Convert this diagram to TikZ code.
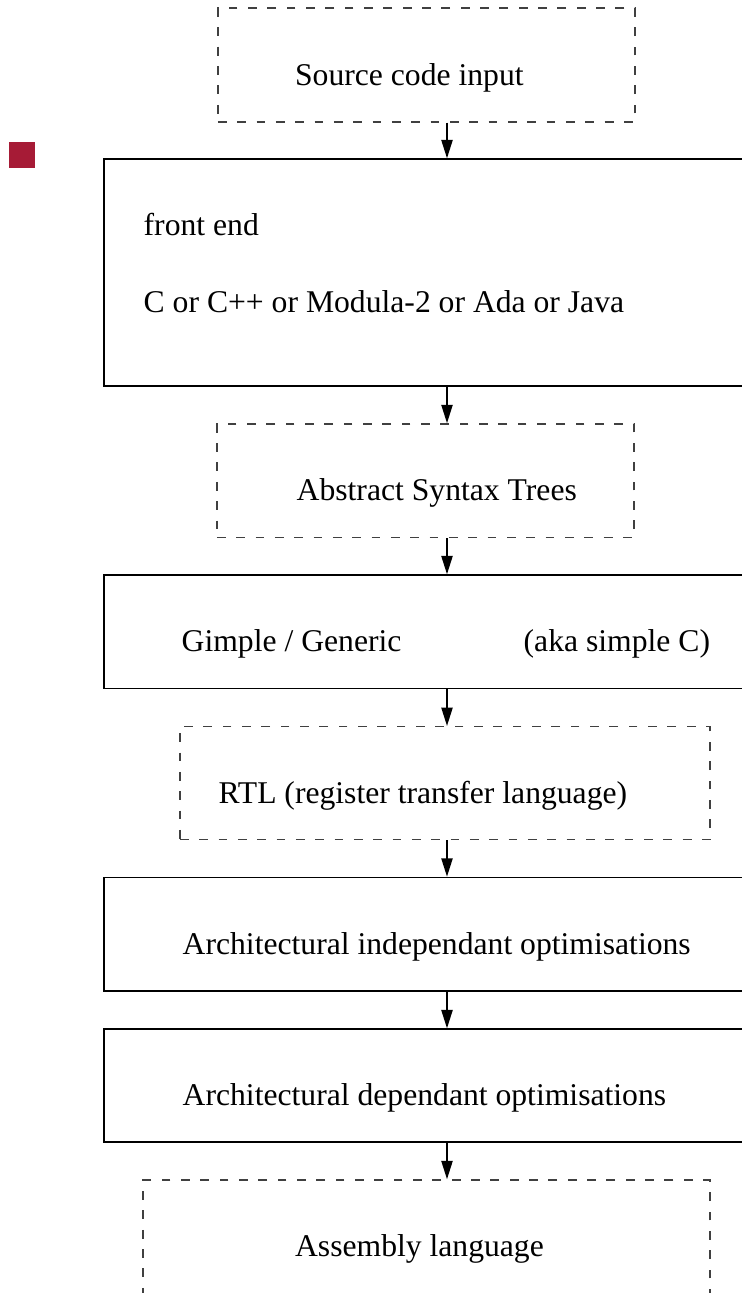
\documentclass[tikz,border=0pt]{standalone}
\usepackage{fontspec}
\setmainfont{Liberation Serif}
\usetikzlibrary{arrows.meta}
\tikzset{>={Triangle[length=5.2pt,width=3.2pt]}}
\definecolor{marker}{RGB}{166,27,54}
\tikzset{
  stage/.style={draw, line width=0.4pt, inner sep=0pt, minimum width=6.86cm},
  data/.style={draw=black!75, dash pattern=on 2.5pt off 3pt, line width=0.45pt, inner sep=0pt},
  lbl/.style={anchor=base west, inner sep=0pt, font=\fontsize{9}{11}\selectfont},
}

\begin{document}
\begin{tikzpicture}[x=0.01cm, y=-0.01cm]
    \useasboundingbox (0,0) rectangle (742,1293);
    \clip (0,0) rectangle (742,1293);

    \fill [marker] (9,142) rectangle (35,168);
    \coordinate (axis) at (447,0);

    % boxes
    \node [data, minimum width=4.17cm, minimum height=1.134cm] (src) at (426.5,65) {};
    \node [stage, minimum height=2.27cm] (fe) at (447,272.5) {};
    \node [data, minimum width=4.17cm, minimum height=1.133cm] (ast) at (425.5,480.6) {};
    \node [stage, minimum height=1.133cm] (gimple) at (447,631.6) {};
    \node [data, minimum width=5.30cm, minimum height=1.126cm] (rtl) at (445,783) {};
    \node [stage, minimum height=1.137cm] (indep) at (447,934.2) {};
    \node [stage, minimum height=1.13cm] (dep) at (447,1085.5) {};
    \node [data, minimum width=5.67cm, minimum height=1.5cm] (asm) at (426.5,1255) {};

    % texts
    \node [lbl] (srctext) at (294.4,85) {Source code input};
    \node [lbl] (fetext) at (143,235) {front end};
    \node [lbl] (langtext) at (143,312) {C or C++ or Modula-2 or Ada or Java};
    \node [lbl] (asttext) at (296,500.7) {Abstract Syntax Trees};
    \node [lbl] (gimpletext) at (181,651.7) {Gimple / Generic};
    \node [lbl] (akatext) at (523,651.7) {(aka simple C)};
    \node [lbl] (rtltext) at (218,803) {RTL (register transfer language)};
    \node [lbl] (indeptext) at (182,954) {Architectural independant optimisations};
    \node [lbl] (deptext) at (182,1105) {Architectural dependant optimisations};
    \node [lbl] (asmtext) at (294.4,1256.7) {Assembly language};

    % arrows
    \draw [->, line width=0.4pt] (src.south -| axis) -- (fe.north);
    \draw [->, line width=0.4pt] (fe.south) -- (ast.north -| axis);
    \draw [->, line width=0.4pt] (ast.south -| axis) -- (gimple.north);
    \draw [->, line width=0.4pt] (gimple.south) -- (rtl.north -| axis);
    \draw [->, line width=0.4pt] (rtl.south -| axis) -- (indep.north);
    \draw [->, line width=0.4pt] (indep.south) -- (dep.north);
    \draw [->, line width=0.4pt] (dep.south) -- (asm.north -| axis);
\end{tikzpicture}
\end{document}
